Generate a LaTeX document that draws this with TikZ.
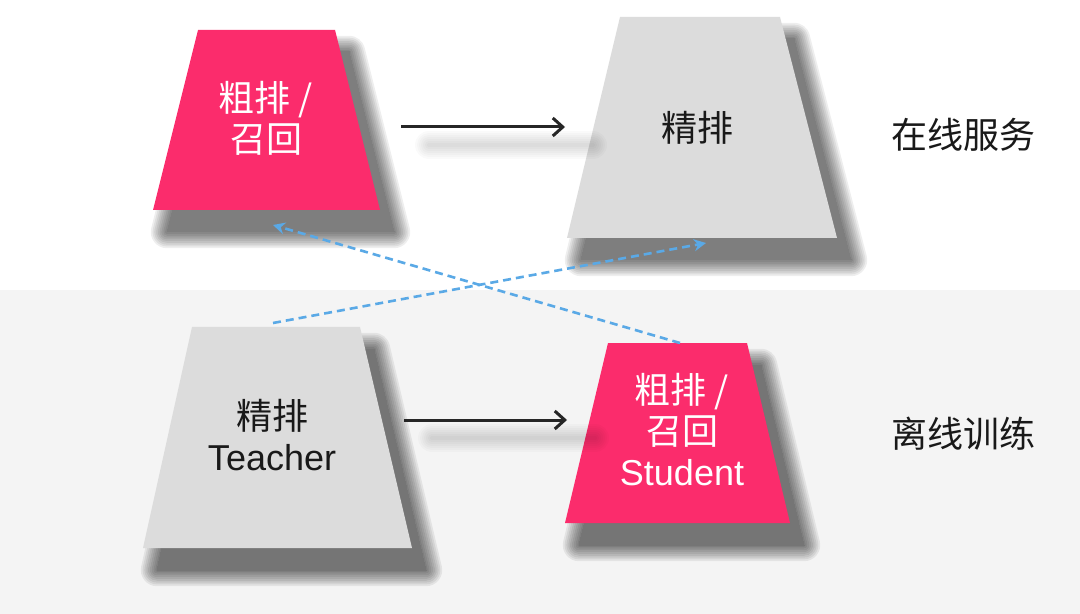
\documentclass[tikz,border=0pt]{standalone}
\usepackage{fontspec}
\setmainfont{Liberation Sans}
\newfontfamily\cjk{Noto Sans CJK SC}
\usetikzlibrary{arrows.meta}
\definecolor{coarsepink}{HTML}{FB2C6C}
\definecolor{finegray}{HTML}{DCDCDC}
\definecolor{bandgray}{HTML}{F4F4F4}
\definecolor{distillblue}{HTML}{5AA9E6}

\begin{document}
\begin{tikzpicture}[x=0.5pt,y=-0.5pt,
    stageshade/.style={draw=black,fill=black,line join=round},
    stagetext/.style={inner sep=0pt,align=center,
      font=\fontsize{18}{20.5}\selectfont},
    flow/.style={-{Straight Barb[length=5pt,width=9pt,line width=1.5pt]},
      line width=1.5pt,black!85},
    flowshade/.style={draw=black,opacity=0.018,line cap=round,
      transform canvas={xshift=14pt,yshift=-9pt}},
    distill/.style={-{Stealth[length=6pt,width=6pt]},
      dash pattern=on 4pt off 2.5pt,line width=1.3pt,distillblue},
    sidelabel/.style={font=\fontsize{18}{20.5}\selectfont\cjk,text=black!90}]
  % page and the offline band
  \useasboundingbox (0,0) rectangle (1080,614);
  \fill[white] (0,0) rectangle (1080,290);
  \fill[bandgray] (0,290) rectangle (1080,614);

  % corners of the four stages
  \coordinate (coarse-sw) at (153,210); \coordinate (coarse-nw) at (198,30);
  \coordinate (coarse-ne) at (335,30);  \coordinate (coarse-se) at (380,210);
  \coordinate (fine-sw) at (567,238);   \coordinate (fine-nw) at (620,17);
  \coordinate (fine-ne) at (780,17);    \coordinate (fine-se) at (837,238);
  \coordinate (teacher-sw) at (143,548); \coordinate (teacher-nw) at (192,327);
  \coordinate (teacher-ne) at (360,327); \coordinate (teacher-se) at (412,548);
  \coordinate (student-sw) at (565,523); \coordinate (student-nw) at (608,343);
  \coordinate (student-ne) at (747,343); \coordinate (student-se) at (790,523);

  % soft drop shadows: stacked, widened copies
  \foreach \s in {coarse,fine,teacher,student} {
    \foreach \w [evaluate=\w as \lw using 1.8*\w] in {0,...,9} {
      \begin{scope}[transparency group,opacity=0.065,
          transform canvas={xshift=7pt,yshift=-11pt}]
        \filldraw[stageshade,line width=\lw pt]
          (\s-sw) -- (\s-nw) -- (\s-ne) -- (\s-se) -- cycle;
      \end{scope}
    }
  }

  % online serving
  \fill[coarsepink] (coarse-se) -- coordinate (coarse bottom) (coarse-sw)
    -- (coarse-nw) -- coordinate (coarse top) (coarse-ne) -- cycle;
  \node[stagetext,text=white] (coarse) at (266,118)
    {\cjk 粗排 /\\\cjk 召回};
  \fill[finegray] (fine-se) -- coordinate (fine bottom) (fine-sw)
    -- (fine-nw) -- coordinate (fine top) (fine-ne) -- cycle;
  \node[stagetext,text=black!90] (fine) at (697,128) {\cjk 精排};

  % offline training
  \fill[finegray] (teacher-se) -- coordinate (teacher bottom) (teacher-sw)
    -- (teacher-nw) -- coordinate (teacher top) (teacher-ne) -- cycle;
  \node[stagetext,text=black!90] (teacher) at (272,435)
    {\cjk 精排\\\rmfamily Teacher};
  \fill[coarsepink] (student-se) -- coordinate (student bottom) (student-sw)
    -- (student-nw) -- coordinate (student top) (student-ne) -- cycle;
  \node[stagetext,text=white] (student) at (682,430)
    {\cjk 粗排 /\\\cjk 召回\\\rmfamily Student};

  \node[sidelabel] (online) at (963,135) {在线服务};
  \node[sidelabel] (offline) at (963,434) {离线训练};

  % forward arrows and their soft shadows
  \coordinate (serve from) at ([xshift=67.5pt,yshift=-4.5pt]coarse.center);
  \coordinate (serve to) at ([xshift=-66pt,yshift=0.5pt]fine.center);
  \coordinate (train from) at ([xshift=66pt,yshift=7.5pt]teacher.center);
  \coordinate (train to) at ([xshift=-57.5pt,yshift=5pt]student.center);
  \foreach \w in {2,4,...,14} {
    \draw[flowshade,line width=\w pt] (serve from) -- (serve to);
    \draw[flowshade,line width=\w pt] (train from) -- (train to);
  }
  \draw[flow] (serve from) -- (serve to);
  \draw[flow] (train from) -- (train to);

  % distillation links
  \draw[distill] ([xshift=-1.5pt,yshift=2pt]teacher top)
    -- ([xshift=2pt,yshift=-2.5pt]fine bottom);
  \draw[distill] ([xshift=1.25pt]student top)
    -- ([xshift=3.25pt,yshift=-7.5pt]coarse bottom);
\end{tikzpicture}
\end{document}
